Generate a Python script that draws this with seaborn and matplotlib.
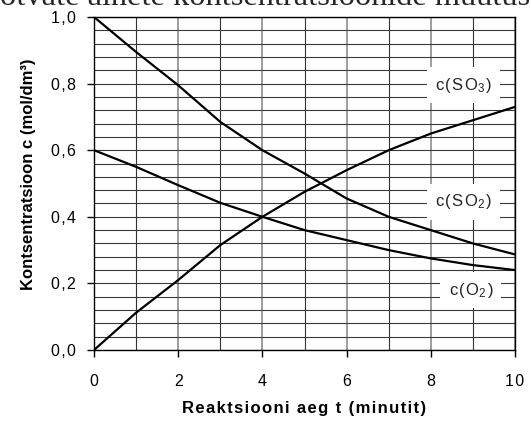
import numpy as np
import pandas as pd
import matplotlib
matplotlib.use("Agg")
import matplotlib.pyplot as plt
import seaborn as sns

t = [0, 1, 2, 3, 4, 5, 6, 7, 8, 9, 10]
so2 = [1.0, 0.895, 0.795, 0.685, 0.60, 0.53, 0.455, 0.40, 0.36, 0.32, 0.287]
so3 = [0.0, 0.112, 0.21, 0.315, 0.40, 0.475, 0.54, 0.60, 0.65, 0.69, 0.73]
o2 = [0.60, 0.55, 0.495, 0.442, 0.40, 0.36, 0.33, 0.30, 0.275, 0.255, 0.24]
y_ticks = [0.0, 0.2, 0.4, 0.6, 0.8, 1.0]
y_labels = ["0,0", "0,2", "0,4", "0,6", "0,8", "1,0"]
x_ticks = [0, 2, 4, 6, 8, 10]
x_labels = ["0", "2", "4", "6", "8", "10"]

sns.set_theme(style="white")
plt.rcParams['font.family'] = ['Liberation Sans', 'DejaVu Sans']
plt.rcParams['mathtext.fontset'] = 'custom'
plt.rcParams['mathtext.rm'] = 'Liberation Sans'
plt.rcParams['mathtext.it'] = 'Liberation Sans'

HS = "\u200a"   # hair space for letter spacing


def spaced(s, sep):
    return sep.join(list(s))


df = pd.DataFrame({"t": t * 3, "c": so2 + so3 + o2,
                   "s": ["SO2"] * 11 + ["SO3"] * 11 + ["O2"] * 11})

fig = plt.figure(figsize=(5.31, 4.24), dpi=100)
ax = fig.add_axes([94 / 531, 1 - 350 / 424, 421 / 531, 333 / 424])

# grid: vertical every minute, horizontal every 0.04
for xv in range(0, 11):
    major = xv % 2 == 0
    ax.axvline(xv, color="#8c8c8c" if major else "#333333",
               lw=1.2 if major else 0.8, zorder=1)
for i in range(0, 26):
    yv = i * 0.04
    ax.axhline(yv, color="#3a3a3a", lw=0.8, zorder=1)

sns.lineplot(data=df, x="t", y="c", units="s", estimator=None, color="black",
             lw=1.6, ax=ax, legend=False, zorder=3)

box = dict(facecolor="white", edgecolor="none", boxstyle="square,pad=0.5")
lbl_fs = 12
ax.text(8.78, 0.795, "c" + HS + "(" + HS + "S" + HS + "O$_\\mathrm{3}$" + HS + ")",
        fontsize=lbl_fs, ha="center", va="center", bbox=box, zorder=4)
ax.text(8.78, 0.445, "c" + HS + "(" + HS + "S" + HS + "O$_\\mathrm{2}$" + HS + ")",
        fontsize=lbl_fs, ha="center", va="center", bbox=box, zorder=4)
ax.text(8.95, 0.18, "c" + HS + "(" + HS + "O$_\\mathrm{2}$" + HS + ")",
        fontsize=lbl_fs, ha="center", va="center", bbox=box, zorder=4)

ax.set_xlim(0, 10)
ax.set_ylim(0, 1.0)
ax.set_xticks(x_ticks)
ax.set_xticklabels([spaced(s, HS) for s in x_labels])
ax.set_yticks(y_ticks)
ax.set_yticklabels([spaced(s, HS) for s in y_labels])
ax.tick_params(axis="y", which="major", direction="out", length=5, width=1,
               color="black", labelsize=11.5, labelcolor="black", pad=8, left=True)
ax.tick_params(axis="x", which="major", direction="out", length=5, width=1,
               color="black", labelsize=11.5, labelcolor="black", pad=12, bottom=True)
for sp in ax.spines.values():
    sp.set_color("black")
    sp.set_linewidth(1.0)
    sp.set_visible(True)

ax.set_xlabel(spaced("Reaktsiooni aeg t (minutit)", HS), fontsize=12,
              fontweight="bold", color="black")
ax.xaxis.set_label_coords(0.5, (350 - 401) / 333)
ax.set_ylabel("Kontsentratsioon c (mol/dm³)", fontsize=12,
              fontweight="bold", color="black")
ax.yaxis.set_label_coords((36 - 94) / 421, (350 - 174) / 333)

fig.text(0.0, 1 - 5 / 424, "otvate ainete kontsentratsioonide muutus",
         fontsize=23.3, family=["Liberation Serif"], ha="left", va="baseline")

fig.savefig("out.png", dpi=100)
